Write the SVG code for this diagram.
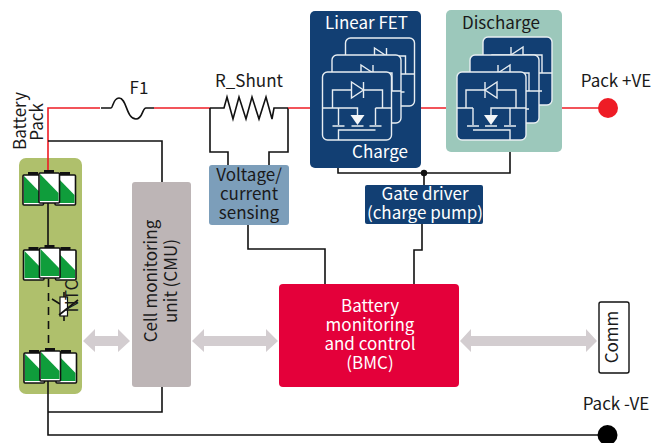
<svg xmlns="http://www.w3.org/2000/svg" xmlns:xlink="http://www.w3.org/1999/xlink" width="652" height="443" viewBox="0 0 652 443">
<style>
text{font-family:"Noto Sans CJK SC","Noto Sans","Open Sans","Liberation Sans",sans-serif;font-size:17px;fill:#1a1a1a}
.c{text-anchor:middle}
.w{fill:#fff}
.wire{fill:none;stroke:#111;stroke-width:1.600}
.red{fill:none;stroke:#ee1c25;stroke-width:1.600}
.dbl{fill:#d3cdd0}
.card{fill:#123f73;stroke:#e8eef2;stroke-width:1.400}
.fl{fill:none;stroke:#e8eef2;stroke-width:1.400}
.fd{fill:#123f73;stroke:#e8eef2;stroke-width:1.400}
.ff{fill:#f4f6f8}
.shell{fill:#fff;stroke:#111;stroke-width:1.600}
.cap{fill:#111}
.gr{fill:#0f9d3b}
</style>
<defs>
<g id="fet">
<rect class="card" x="0" y="0" width="69" height="68" rx="5"/>
<path class="fl" d="M10 36V18H60V36M0 36H35V43M16 36V53M10 54H22M29 54H41M53 36V53M47 54H59M53 36H69M16 68V58H53"/>
<path class="ff" d="M28 43H42L35 53Z"/>
</g>
<g id="dioR"><path class="fd" d="M29 10V26L41 18Z"/><path class="fl" d="M41 10V26"/></g>
<g id="cell"><rect class="shell" x="0" y="0" width="20.500" height="30" rx="1"/><path class="gr" d="M1 1L19.500 20V28H1Z"/></g>
<g id="pack">
<rect class="cap" x="5" y="-3" width="10" height="3"/><use xlink:href="#cell"/>
<rect class="cap" x="37" y="-3" width="10" height="3"/><use xlink:href="#cell" x="32"/>
<rect class="cap" x="21" y="-5" width="10" height="3"/><use xlink:href="#cell" x="16" y="-2"/>
</g>
</defs>

<g id="battery-panel"><rect x="19" y="158" width="63" height="236" rx="7" fill="#afc06c"/></g>

<g id="connectors">
<path class="red" d="M100 108H48V171"/>
<path class="wire" d="M48 141H162V182"/>
<path class="wire" d="M101 108H111C113 108 113 98 119 98C127 98 126 119 136 119C143 119 142 108 146 108H154"/>
<path class="red" d="M154 108H210"/>
<path class="wire" d="M210 108H224L227 97L233 119L239 97L246 119L252 97L259 119L266 97L272 119L274 108H288"/>
<path class="wire" d="M210 108V152H228V165M288 108V152H269V165"/>
<path class="red" d="M288 108H322M414 108H446M526 108H600"/>
<path class="wire" d="M248 225V249H325V284"/>
<path class="wire" d="M338 140V173H510V140M424 173V185"/>
<path class="wire" d="M422 224V250H414V284"/>
<path class="wire" d="M48 203V248"/>
<path class="wire" d="M48.500 279V350" stroke-dasharray="8 6"/>
<path class="wire" d="M48 381V435H600M48 412H162V387"/>
<circle cx="424" cy="173" r="3.200" fill="#111"/>
</g>

<g id="linear-fet">
<rect x="310" y="11" width="111" height="157" rx="5" fill="#123f73"/>
<text class="c w" x="366.500" y="29">Linear FET</text>
<g transform="translate(345.500 38)"><use xlink:href="#fet"/><use xlink:href="#dioR"/></g>
<g transform="translate(332 55)"><use xlink:href="#fet"/><use xlink:href="#dioR"/></g>
<g transform="translate(322.500 72)"><use xlink:href="#fet"/><use xlink:href="#dioR"/></g>
<text class="c w" x="380" y="158">Charge</text>
</g>

<g id="discharge">
<rect x="446" y="10" width="116" height="142" rx="5" fill="#9cc8bb"/>
<text class="c" x="501" y="29">Discharge</text>
<g transform="translate(552 37) scale(-1 1)"><use xlink:href="#fet"/><use xlink:href="#dioR"/></g>
<g transform="translate(539 55) scale(-1 1)"><use xlink:href="#fet"/><use xlink:href="#dioR"/></g>
<g transform="translate(526 72) scale(-1 1)"><use xlink:href="#fet"/><use xlink:href="#dioR"/></g>
</g>

<g id="batteries">
<g transform="translate(23 175)"><use xlink:href="#pack"/></g>
<g transform="translate(23.500 250)"><use xlink:href="#pack"/></g>
<g transform="translate(24 353)"><use xlink:href="#pack"/></g>
</g>

<g id="ntc">
<path class="wire" d="M64 292V321M52 299L60 304" stroke-width="1.300"/>
<rect x="60" y="297" width="7.500" height="19" fill="#fff" stroke="#111" stroke-width="1.200"/>
<path class="wire" d="M59 315L78 300" stroke-width="1.300"/>
<text transform="translate(78 296) rotate(-90)" class="c">NTC</text>
</g>

<g id="label-battery">
<text transform="translate(26 121) rotate(-90)" class="c">Battery</text>
<text transform="translate(43 122) rotate(-90)" class="c">Pack</text>
</g>

<g id="f1"><text class="c" x="139" y="94">F1</text></g>
<g id="r-shunt"><text class="c" x="249" y="87">R_Shunt</text></g>

<g id="sensing">
<rect x="209" y="165" width="80" height="60" rx="3" fill="#7c9eba"/>
<text class="c" x="249" y="181">Voltage/</text>
<text class="c" x="249" y="200">current</text>
<text class="c" x="249" y="219">sensing</text>
</g>

<g id="gate-driver">
<rect x="365" y="185" width="118" height="39" rx="2" fill="#123f73"/>
<text class="c w" x="425" y="200">Gate driver</text>
<text class="c w" x="425" y="219">(charge pump)</text>
</g>

<g id="cmu">
<rect x="132" y="182" width="59" height="205" rx="3" fill="#bdb5b6"/>
<text transform="translate(157 281) rotate(-90)" class="c">Cell monitoring</text>
<text transform="translate(177 281) rotate(-90)" class="c">unit (CMU)</text>
</g>

<g id="bmc">
<rect x="279" y="284" width="180" height="103" rx="4" fill="#e4003a"/>
<text class="c w" x="370" y="312">Battery</text>
<text class="c w" x="370" y="331">monitoring</text>
<text class="c w" x="370" y="350">and control</text>
<text class="c w" x="370" y="369">(BMC)</text>
</g>

<g id="comm">
<rect x="599" y="302" width="30" height="71" rx="2" fill="#fff" stroke="#111" stroke-width="1.400"/>
<text transform="translate(618 337) rotate(-90)" class="c">Comm</text>
</g>

<g id="arrows">
<path class="dbl" d="M83 341L95 329V336H118V329L130 341L118 352V346H95V352Z"/>
<path class="dbl" d="M192 341L204 329V336H266V329L278 341L266 352V346H204V352Z"/>
<path class="dbl" d="M460 341L471 329V336H586V329L597 341L586 352V346H471V352Z"/>
</g>

<g id="pack-pos">
<circle cx="608" cy="108" r="10" fill="#ee1c25"/>
<text class="c" x="616" y="87">Pack +VE</text>
</g>
<g id="pack-neg">
<circle cx="607.500" cy="435" r="10" fill="#000"/>
<text class="c" x="616" y="410">Pack -VE</text>
</g>
</svg>
